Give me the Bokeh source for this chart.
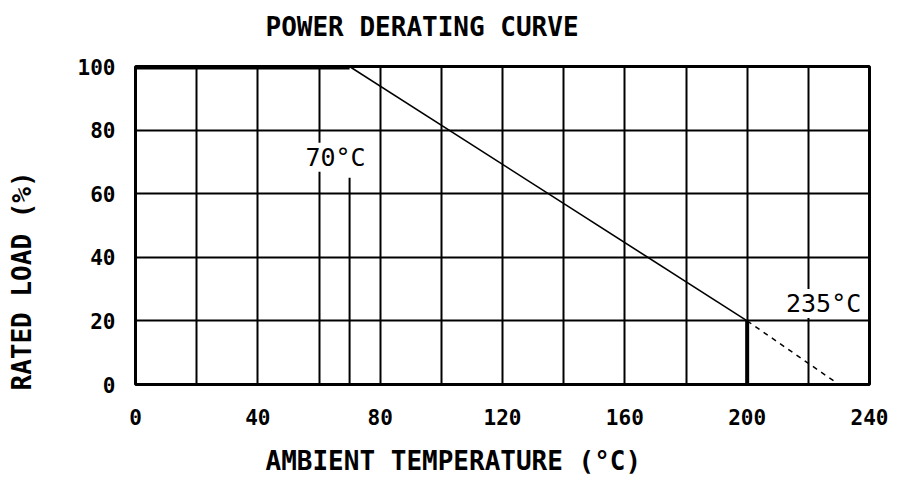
from bokeh.plotting import figure
from bokeh.models import FixedTicker, Label, LinearAxis, Range1d, Title
from bokeh.embed import file_html
from bokeh.resources import INLINE

# ---- data ----
flat_x = [0, 70]
flat_y = [100, 100]
derate_x = [70, 200]
derate_y = [100, 20]
dash_x = [200, 230]
dash_y = [20, 0]
marker_x = [70, 200]
marker_y0 = [0, 0]
marker_y1 = [65, 20]
x_ticks = [0, 40, 80, 120, 160, 200, 240]
y_ticks = [0, 20, 40, 60, 80, 100]
grid_x = [0, 20, 40, 60, 80, 100, 120, 140, 160, 180, 200, 220, 240]
grid_y = [0, 20, 40, 60, 80, 100]
title_text = "POWER DERATING CURVE"
x_label = "AMBIENT TEMPERATURE (°C)"
y_label = "RATED LOAD (%)"
note_70 = "70°C"
note_235 = "235°C"

FONT = "DejaVu Sans Mono"

p = figure(width=911, height=478, x_range=Range1d(0, 240), y_range=Range1d(0, 100),
           output_backend="svg", toolbar_location=None, title=None,
           min_border_left=135, min_border_top=66, min_border_right=42,
           min_border_bottom=94)

p.outline_line_color = "black"
p.outline_line_width = 3
p.background_fill_color = "white"
p.border_fill_color = "white"

for ax in (p.xaxis[0], p.yaxis[0]):
    ax.axis_line_color = None
    ax.major_tick_line_color = None
    ax.minor_tick_line_color = None
    ax.major_label_text_font = FONT
    ax.major_label_text_font_style = "bold"
    ax.major_label_text_font_size = "21px"
    ax.major_label_text_color = "black"

p.xaxis.ticker = FixedTicker(ticks=x_ticks)
p.yaxis.ticker = FixedTicker(ticks=y_ticks)
p.xaxis.major_label_standoff = 18
p.yaxis.major_label_standoff = 14

p.xgrid.ticker = FixedTicker(ticks=grid_x)
p.ygrid.ticker = FixedTicker(ticks=grid_y)
for g in (p.xgrid[0], p.ygrid[0]):
    g.grid_line_color = "black"
    g.grid_line_width = 2
    g.grid_line_alpha = 1

p.line(flat_x, flat_y, line_color="black", line_width=6)
p.line(derate_x, derate_y, line_color="black", line_width=1.6)
p.line(dash_x, dash_y, line_color="black", line_width=1.5, line_dash="5 5")
p.segment(x0=marker_x, y0=marker_y0, x1=marker_x, y1=marker_y1,
          line_color="black", line_width=[2, 4])

p.add_layout(Label(x=65.4, y=71.5, text=note_70, text_font=FONT, text_color="black",
                   text_font_size="25px", text_align="center", text_baseline="middle",
                   background_fill_color="white", background_fill_alpha=1))
p.add_layout(Label(x=225, y=25.5, text=note_235, text_font=FONT, text_color="black",
                   text_font_size="25px", text_align="center", text_baseline="middle",
                   background_fill_color="white", background_fill_alpha=1))


def spacer(size):
    # an invisible axis used only to reserve room in a side panel
    return LinearAxis(ticker=FixedTicker(ticks=[0]), axis_line_color=None,
                      major_tick_line_color=None, minor_tick_line_color=None,
                      major_tick_in=0, major_tick_out=size, minor_tick_out=0,
                      major_label_standoff=0, major_label_text_font_size="1px",
                      major_label_text_alpha=0, major_label_overrides={0: ""})


p.add_layout(spacer(16), "above")
p.add_layout(spacer(35), "left")
p.add_layout(spacer(18), "below")

common = dict(text_font=FONT, text_font_size="26px", text_font_style="bold",
              text_color="black", align="left")
p.add_layout(Title(text=title_text, offset=130, standoff=14, vertical_align="top",
                   **common), "above")
p.add_layout(Title(text=y_label, offset=-6, standoff=6, **common), "left")
p.add_layout(Title(text=x_label, offset=130, standoff=0, vertical_align="top",
                   **common), "below")

open("out.html", "w").write(file_html(p, INLINE))
